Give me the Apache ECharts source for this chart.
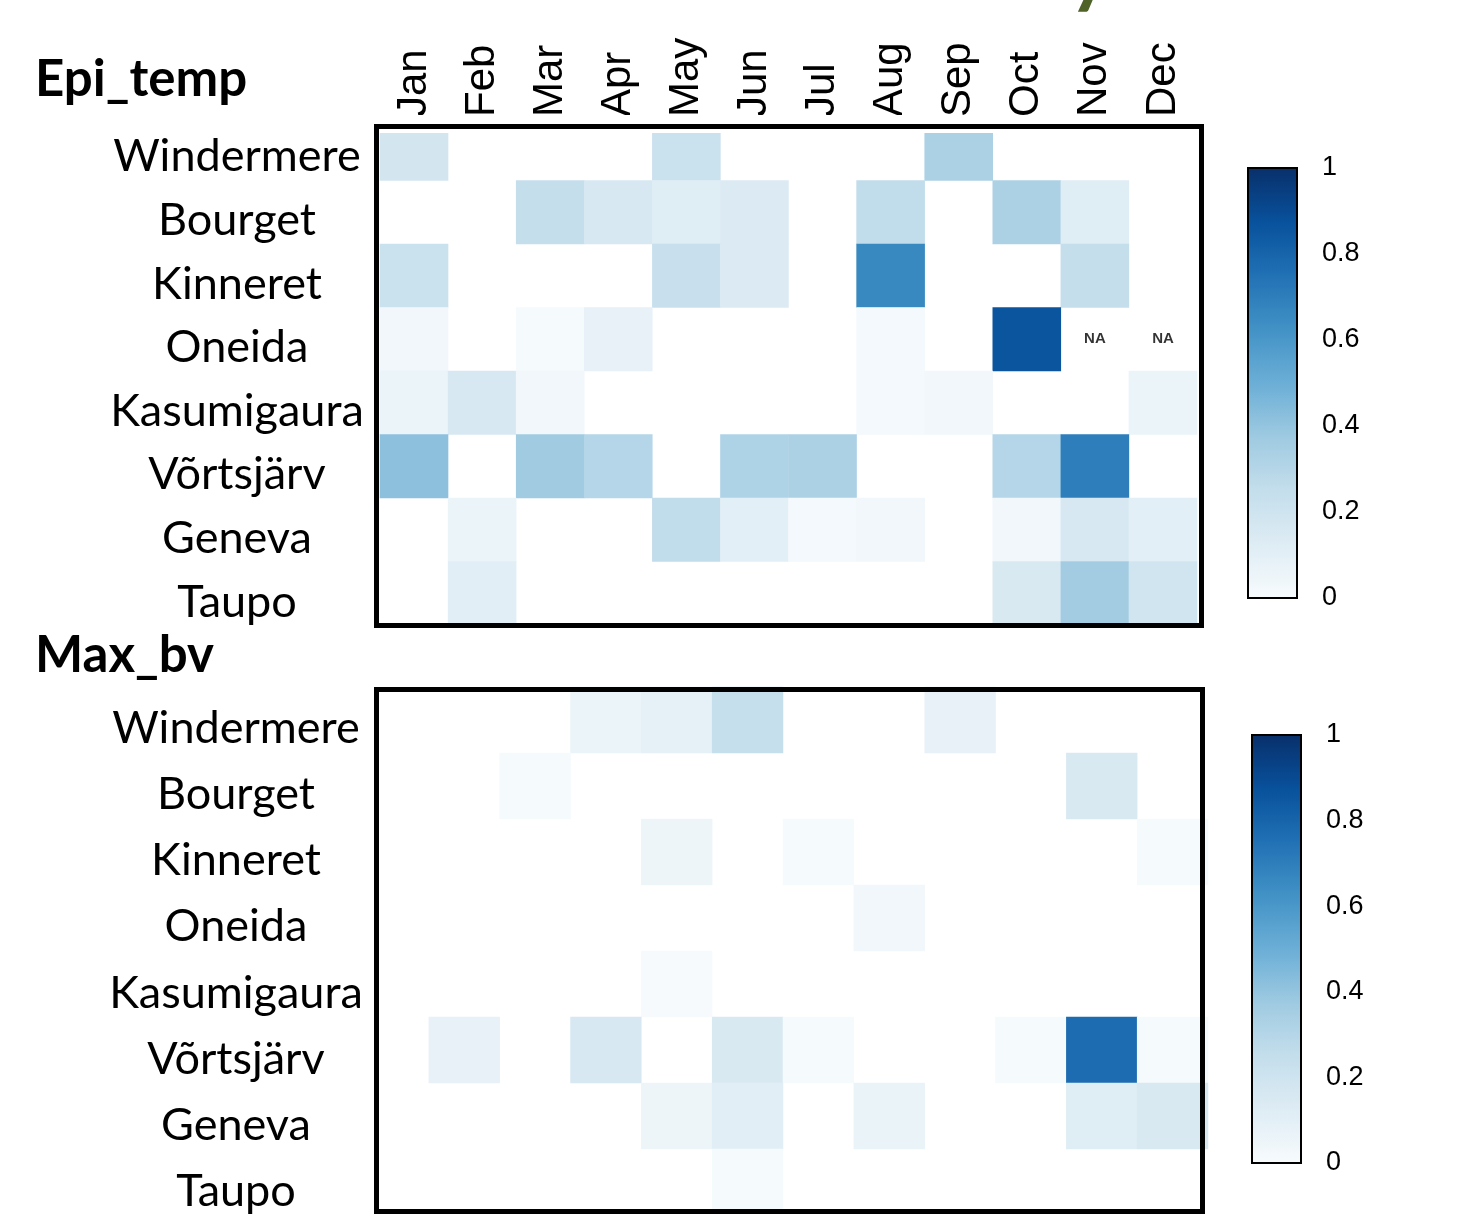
<!DOCTYPE html>
<html>
<head>
<meta charset="utf-8">
<script src="https://cdn.jsdelivr.net/npm/echarts@6/dist/echarts.min.js"></script>
<style>
  html, body { margin: 0; padding: 0; background: #fff; }
  #chart { width: 1470px; height: 1214px; }
</style>
</head>
<body>
<div id="chart"></div>
<script>
const months = ["Jan", "Feb", "Mar", "Apr", "May", "Jun", "Jul", "Aug", "Sep", "Oct", "Nov", "Dec"];
const lakes = ["Windermere", "Bourget", "Kinneret", "Oneida", "Kasumigaura", "Võrtsjärv", "Geneva", "Taupo"];

// one row per lake, Jan..Dec; null = NA
const epiTemp = [
  [0.18, 0, 0, 0, 0.22, 0, 0, 0, 0.33, 0, 0, 0],
  [0, 0, 0.25, 0.16, 0.12, 0.14, 0, 0.26, 0, 0.33, 0.12, 0],
  [0.22, 0, 0, 0, 0.23, 0.14, 0, 0.66, 0, 0, 0.25, 0],
  [0.03, 0, 0.01, 0.08, 0, 0, 0, 0.02, 0, 0.86, null, null],
  [0.06, 0.16, 0.03, 0, 0, 0, 0, 0.02, 0.03, 0, 0, 0.06],
  [0.42, 0, 0.37, 0.30, 0, 0.32, 0.33, 0, 0, 0.30, 0.70, 0],
  [0, 0.06, 0, 0, 0.26, 0.10, 0.02, 0.03, 0, 0.03, 0.16, 0.10],
  [0, 0.11, 0, 0, 0, 0, 0, 0, 0, 0.15, 0.36, 0.19]
];
const maxBv = [
  [0, 0, 0, 0.06, 0.09, 0.24, 0, 0, 0.08, 0, 0, 0],
  [0, 0, 0.01, 0, 0, 0, 0, 0, 0, 0, 0.15, 0],
  [0, 0, 0, 0, 0.05, 0, 0.01, 0, 0, 0, 0, 0.01],
  [0, 0, 0, 0, 0, 0, 0, 0.03, 0, 0, 0, 0],
  [0, 0, 0, 0, 0.005, 0, 0, 0, 0, 0, 0, 0],
  [0, 0.08, 0, 0.16, 0, 0.15, 0.01, 0, 0, 0.01, 0.77, 0.01],
  [0, 0, 0, 0, 0.05, 0.11, 0, 0.07, 0, 0, 0.12, 0.15],
  [0, 0, 0, 0, 0, 0.01, 0, 0, 0, 0, 0, 0]
];
const blues = ["#f7fbfd", "#deecf4", "#c4deec", "#9ecae1", "#6baed6", "#4292c6", "#2171b5", "#08519c", "#08306b"];

function cells(rows) {
  let out = [];
  rows.forEach((r, i) => {
    r.forEach((v, j) => {
      if (v !== null && v > 0) out.push([j, i, v]);
    });
  });
  return out;
}
function naCells(rows) {
  let out = [];
  rows.forEach((r, i) => {
    r.forEach((v, j) => {
      if (v === null) out.push([j, i]);
    });
  });
  return out;
}

const lakeFont = "Lato";
const hidden = { show: false };

function labelAxis(gridIndex, margin) {
  return {
    type: "category", gridIndex: gridIndex, data: lakes, inverse: true,
    axisLine: hidden, axisTick: hidden, splitLine: hidden,
    axisLabel: { margin: margin, align: "center", fontFamily: lakeFont, fontSize: 45, color: "#000" }
  };
}
function barAxis(gridIndex) {
  return {
    type: "value", gridIndex: gridIndex, min: 0, max: 1, interval: 0.2, position: "right",
    axisLine: { show: true, lineStyle: { color: "#000", width: 2 } },
    axisTick: { show: true, length: 9, lineStyle: { color: "#000", width: 2 } },
    splitLine: hidden,
    axisLabel: { margin: 25, fontFamily: "Liberation Sans", fontSize: 27, color: "#000" }
  };
}

const eChart = echarts.init(document.getElementById("chart"), null, { renderer: "canvas" });

const option = {
  backgroundColor: "#fff",
  animation: false,
  title: [
    { text: "Epi_temp", left: 30, top: 49, textStyle: { fontFamily: lakeFont, fontWeight: "bold", fontSize: 51, color: "#000" } },
    { text: "Max_bv", left: 30, top: 625, textStyle: { fontFamily: lakeFont, fontWeight: "bold", fontSize: 51, color: "#000" } }
  ],
  grid: [
    { left: 380, top: 117, width: 817, height: 508, outerBoundsMode: "none" },
    { left: 358, top: 687, width: 850, height: 528, outerBoundsMode: "none" },
    { left: 380, top: 125, width: 817, height: 509, outerBoundsMode: "none" },
    { left: 376, top: 695, width: 817, height: 530, outerBoundsMode: "none" },
    { left: 1248, top: 168, width: 49, height: 430, outerBoundsMode: "none" },
    { left: 1252, top: 735, width: 49, height: 428, outerBoundsMode: "none" }
  ],
  xAxis: [
    {
      type: "category", gridIndex: 0, data: months, position: "top",
      axisLine: hidden, axisTick: hidden, splitLine: hidden,
      axisLabel: { rotate: -90, margin: 0, fontFamily: "Liberation Sans", fontSize: 42, color: "#000" }
    },
    { type: "category", gridIndex: 1, data: months, show: false },
    { type: "category", gridIndex: 2, data: months, show: false },
    { type: "category", gridIndex: 3, data: months, show: false },
    { type: "value", gridIndex: 4, show: false },
    { type: "value", gridIndex: 5, show: false }
  ],
  yAxis: [
    { type: "category", gridIndex: 0, data: lakes, inverse: true, show: false },
    { type: "category", gridIndex: 1, data: lakes, inverse: true, show: false },
    labelAxis(2, 380 - 237),
    labelAxis(3, 376 - 236),
    barAxis(4),
    barAxis(5)
  ],
  visualMap: [
    {
      type: "continuous", seriesIndex: 0, min: 0, max: 1, calculable: false, text: null,
      left: 1248, top: 168, itemWidth: 49, itemHeight: 430, padding: 0,
      inRange: { color: blues }
    },
    {
      type: "continuous", seriesIndex: 1, min: 0, max: 1, calculable: false, text: null,
      left: 1252, top: 735, itemWidth: 49, itemHeight: 428, padding: 0,
      inRange: { color: blues }
    }
  ],
  series: [
    { type: "heatmap", xAxisIndex: 0, yAxisIndex: 0, data: cells(epiTemp), itemStyle: { borderWidth: 0 } },
    { type: "heatmap", xAxisIndex: 1, yAxisIndex: 1, data: cells(maxBv), itemStyle: { borderWidth: 0 } },
    {
      type: "scatter", xAxisIndex: 0, yAxisIndex: 0, data: naCells(epiTemp),
      symbolSize: 1, itemStyle: { color: "rgba(0,0,0,0)" },
      label: { show: true, position: "inside", formatter: "NA", fontFamily: "Liberation Sans", fontWeight: "bold", fontSize: 15, color: "#000" }
    }
  ],
  graphic: [
    // the top row is cut by the frame in the original
    { type: "rect", z: 90, shape: { x: 378, y: 115, width: 822, height: 18 }, style: { fill: "#fff" } },
    { type: "rect", z: 100, shape: { x: 376.5, y: 126.5, width: 825, height: 499 }, style: { fill: "none", stroke: "#000", lineWidth: 5 } },
    { type: "rect", z: 100, shape: { x: 376.5, y: 689.5, width: 826, height: 522 }, style: { fill: "none", stroke: "#000", lineWidth: 5 } },
    { type: "rect", z: 100, shape: { x: 1248, y: 168, width: 49, height: 430 }, style: { fill: "none", stroke: "#000", lineWidth: 2 } },
    { type: "rect", z: 100, shape: { x: 1252, y: 735, width: 49, height: 428 }, style: { fill: "none", stroke: "#000", lineWidth: 2 } },
    { type: "text", z: 100, style: { text: "y", x: 1111, y: 12, font: "bold 80px Lato", fill: "#4f6228", textAlign: "right", textVerticalAlign: "bottom" } }
  ]
};
eChart.setOption(option, true);
</script>
</body>
</html>
